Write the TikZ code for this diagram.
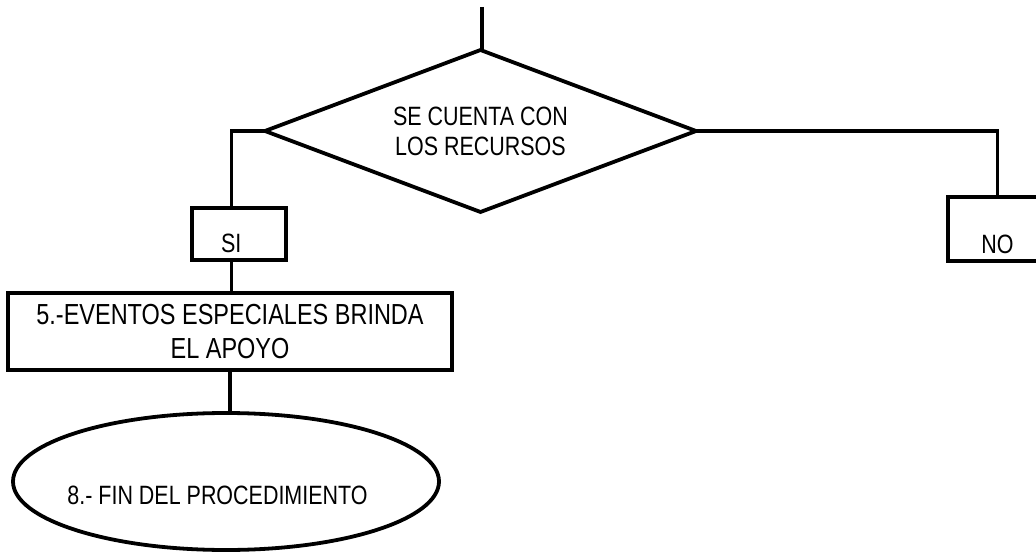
\documentclass[tikz,border=0pt]{standalone}
\usepackage{fontspec}
\setmainfont{Liberation Sans}[FakeStretch=0.81]
\usetikzlibrary{shapes.geometric}

\begin{document}
\begin{tikzpicture}[x=1pt, y=-1pt, line width=3.8pt,
  caja/.style={draw, rectangle, inner sep=0pt, outer sep=0pt, font=\fontsize{26.5}{30}\selectfont},
  decision/.style={draw, diamond, aspect=2.66, inner sep=0pt, outer sep=0pt, align=center, font=\fontsize{26.5}{30}\selectfont},
  fin/.style={draw, ellipse, inner xsep=-30pt, inner ysep=0pt, outer sep=0pt, font=\fontsize{26.5}{30}\selectfont}]
  \useasboundingbox (0,0) rectangle (1036,553);

  \node[decision, minimum width=431pt, minimum height=162pt] (recursos) at (480.5,131) {SE CUENTA CON\\LOS RECURSOS};
  \coordinate (inicio) at (482,7);

  \node[caja, minimum width=94pt, text width=94pt, align=left, text height=45pt, text depth=7pt] (si) at (239,234) {\hspace*{29pt}SI};
  \node[caja, minimum width=99pt, text height=57pt, text depth=7pt] (no) at (997.5,229) {NO};

  \node[caja, minimum width=444pt, minimum height=77pt, align=center, font=\fontsize{29}{34}\selectfont] (apoyo) at (230,331.5) {5.-EVENTOS ESPECIALES BRINDA\\EL APOYO};
  \node[fin, minimum width=426pt, minimum height=137pt, text height=45pt, text depth=0pt] (final) at (226,481.5) {8.- FIN DEL PROCEDIMIENTO\hspace*{17pt}};

  \draw (inicio) -- (inicio |- recursos.north);
  \draw (recursos.west) -| ([xshift=-7.5pt]si.north);
  \draw ([xshift=-7.5pt]si.south) -- ([xshift=-7.5pt]si.south |- apoyo.north);
  \draw (recursos.east) -| (no.north);
  \draw (apoyo.south) -- (apoyo.south |- final.north);
\end{tikzpicture}
\end{document}
